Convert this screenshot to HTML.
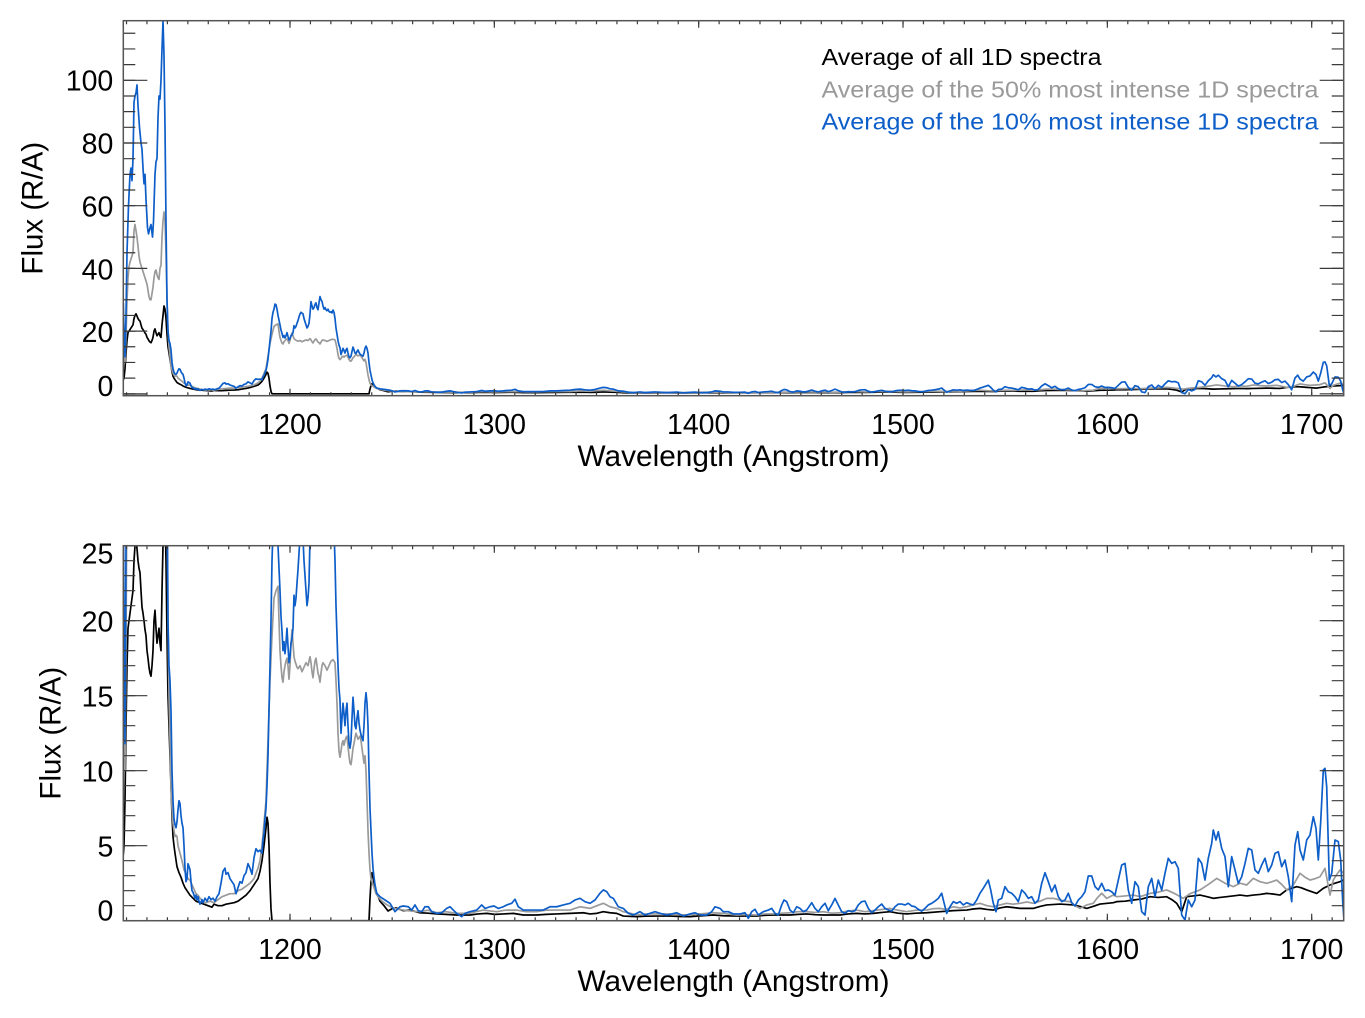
<!DOCTYPE html>
<html>
<head>
<meta charset="utf-8">
<style>
html,body{margin:0;padding:0;background:#fff;}
svg{display:block;}
text{font-family:"Liberation Sans",Arial,Helvetica,sans-serif;}
</style>
</head>
<body>
<svg width="1365" height="1018" viewBox="0 0 1365 1018" xmlns="http://www.w3.org/2000/svg">
<rect x="0" y="0" width="1365" height="1018" fill="#fff"/>
<defs>
<clipPath id="ct" clipPathUnits="userSpaceOnUse"><rect x="123.3" y="20.7" width="1220.4" height="375"/></clipPath>
<clipPath id="cb" clipPathUnits="userSpaceOnUse"><rect x="123.3" y="545.7" width="1220.4" height="375"/></clipPath>
</defs>

<!-- ================= TOP PANEL ================= -->
<g clip-path="url(#ct)" fill="none" stroke-linejoin="round">
<polyline transform="matrix(1 0 0 -3.135 0 393.8)" vector-effect="non-scaling-stroke" stroke="#000" stroke-width="1.7" points="123.3,4.4 124,5 125,8 126,13 127,17 128,19.5 129,20 130,20.5 131,21 132,21.5 133,22 134,24 135,25 136,25.5 137,24.8 138,24 139,23.5 140,23.2 141,22 142,20.9 143,20.5 144,20 145,19.4 146,19 147,18 148,17.5 149,16.9 150,16.5 151,16.3 152,17 153,18 154,20 155,20.7 156,19.5 157,18.5 158,19 159,19.5 160,18.5 161,18 162,22 163,25 164,28 165,27 166,24 167,19 168,15 169,13 170,11 171,9 172,7 173,5.6 174,5 175,4.5 177,3.6 179,3.2 181,2.9 183,2.5 185,2.2 187,2 190,1.7 193,1.5 196,1.3 200,1.2 204,1.1 208,1 212,0.9 214,1.1 218,1 222,1 226,1.1 230,1.15 234,1.2 238,1.3 242,1.5 246,1.7 250,2 254,2.4 258,2.8 260,3.3 262,4 264,5 266,6.2 267,6.9 268,6.5 269,5 270,2.5 271,0.8 272,0 369,0 370,1.5 371,2.6 372,3.2 373,3 374,2.5 375,2.1 377,1.8 380,1.3 384,1 388,0.65 392,0.8 396,0.85 403.3,0.67 410,0.71 420,0.53 428,0.5 436.7,0.45 446,0.42 456.7,0.38 470,0.38 478,0.45 486.7,0.49 495,0.42 503.3,0.45 513.3,0.49 523.3,0.38 536.7,0.38 546,0.42 556.7,0.45 570,0.49 583.3,0.53 590,0.45 596.7,0.49 603.3,0.6 610,0.53 616.7,0.49 623.3,0.31 636.7,0.27 646,0.3 656.7,0.31 670,0.31 680,0.28 690,0.27 700,0.32 713.3,0.38 723.3,0.33 736.7,0.31 756.7,0.31 765,0.36 773.3,0.38 790,0.38 798,0.42 806.7,0.45 815,0.4 823.3,0.38 840,0.38 848,0.45 856.7,0.49 865,0.45 873.3,0.49 882,0.55 890,0.6 898,0.5 906.7,0.45 916,0.5 926.7,0.53 940,0.6 953.3,0.67 966.7,0.71 973,0.78 980,0.82 987,0.75 993.3,0.71 1000,0.85 1006.7,0.93 1013,0.88 1020,0.82 1033.3,0.82 1040,0.95 1046.7,1.05 1060,1.11 1073.3,1.05 1080,0.95 1086.7,0.82 1093,0.95 1100,1.11 1113.3,1.2 1116.7,1.27 1125,1.3 1133.3,1.38 1142,1.45 1150,1.6 1158,1.55 1166.7,1.6 1172,1.4 1176.7,1.16 1181.7,0.6 1186.7,1.6 1193,1.65 1200,1.71 1207,1.6 1213.3,1.49 1220,1.55 1226.7,1.6 1233,1.65 1240,1.71 1247,1.65 1253.3,1.71 1260,1.75 1266.7,1.82 1273,1.78 1280,1.71 1286.7,2.05 1291,2.15 1296.7,2.27 1301,2.2 1306.7,2.05 1311,1.95 1316.7,1.82 1323.3,2.16 1330,2.38 1335,2.5 1340,2.6 1343.7,2.71"/>
<polyline transform="matrix(1 0 0 -3.135 0 393.8)" vector-effect="non-scaling-stroke" stroke="#9a9a9a" stroke-width="1.7" points="123.3,20 124,14 125,10 126,18 127,30 128,37 129,40.5 130,42 131,43 132,44 133,45 134,52 135,54 136,52 137,50 138,47 139,44 140,42 141,41 142,40 143,39 144,38 145,37 146,36 147,35 148,33 149,31 150,30 151,30 152,32 153,34 154,37 155,39 156,39.5 157,38 158,37 159,36.5 160,40 161,41 162,50 163,55 164,58 165,55 166,45 167,30 168,20 169,15 170,12 171,9 172,7.5 173,6.5 174,6 175,5.6 176,5.7 177,5.6 178,5 180,4.5 182,4 184,3.4 186,3.1 188,2.8 190,2.7 192,2.4 194,2.1 196,1.8 198,1.7 200,1.5 203,1.3 206,1.2 210,1.3 214,1.2 218,1.4 222,1.6 226,1.7 230,1.8 234,1.8 238,2 242,2.1 246,2.3 250,2.5 254,2.8 258,3.5 260,4 262,5 264,6.5 266,8 268,12 270,16 272,19 274,21.5 276,22 278,22.3 279,20 280,18 281,17 282,16.2 283,15.9 284,16.6 285,17 286,17.3 287,17.5 288,17 289,16.1 290,17 291,18.5 292,19.4 293,18.5 294,17.6 295,17.3 296,17.1 297,16.9 298,16.8 300,17 302,16.6 304,16.9 306,17.2 308,17 310,17.6 311,17.2 312,16.6 313,16.2 314,16.8 315,17.3 316,17.5 317,17 318,16.5 319,16.3 320,15.9 321,16.5 322,17 323,17.2 325,17 327,16.7 329,17 331,17.3 333,17.4 335,17.2 336,16 337,14.5 338,12.5 339,11.3 340,10.9 341,11.3 342,11.8 343,12 344,11.7 345,12 346,12.2 347,12.3 348,11.6 349,11 350,10.5 351,10.4 352,10.9 353,11.5 354,11.8 355,12.2 356,12.5 357,12.3 358,12.1 360,12.3 361,12 362,11.5 363,11 364,10.5 365,11 366,10 367,8 368,6 369,4.5 370,3.4 371,2.8 372,2.6 374,2.2 376,1.8 378,1.6 382,1.3 386,1.1 390,0.95 395,0.8 400,0.75 403.3,0.71 410,0.65 420,0.6 428,0.7 436.7,0.53 446,0.6 456.7,0.49 470,0.49 476,0.6 483.3,0.71 490,0.65 496.7,0.6 505,0.7 516.7,0.71 526,0.6 536.7,0.6 546,0.7 556.7,0.71 570,0.71 580,0.93 590,0.82 597,1 603.3,1.16 610,0.93 616.7,0.82 623.3,0.6 630,0.5 636.7,0.38 646,0.45 656.7,0.45 670,0.45 680,0.4 690,0.38 700,0.45 713.3,0.53 723.3,0.49 736.7,0.38 745,0.4 756.7,0.38 765,0.45 773.3,0.45 782,0.5 790,0.53 798,0.6 806.7,0.6 815,0.55 823.3,0.6 832,0.5 840,0.53 848,0.65 856.7,0.71 865,0.6 873.3,0.67 882,0.75 890,0.82 898,0.7 906.7,0.6 916,0.7 926.7,0.71 933,0.8 940,0.82 946,0.75 953.3,0.93 960,0.85 966.7,0.93 973,1.05 980,1.16 987,1 993.3,0.93 1000,1.05 1006.7,1.16 1013,1.1 1020,1.16 1027,1.25 1033.3,1.16 1040,1.3 1046.7,1.49 1053.3,1.49 1060,1.38 1065,1.3 1070,1.27 1075,1 1080,0.82 1086.7,1.05 1093.3,1.16 1097,1.5 1101.7,1.83 1106.7,1.49 1113.3,1.71 1116.7,1.6 1125,1.65 1133.3,1.71 1140,1.6 1150,1.82 1158,1.9 1166.7,2.05 1175,1.8 1183.3,1.49 1190,1.8 1200,2.05 1208,2.4 1216.7,2.82 1225,2.5 1233.3,2.27 1240,2.5 1246.7,2.38 1253.3,2.82 1260,2.6 1266.7,2.49 1272,2.6 1276.7,2.71 1282,2.4 1286.7,2.05 1293.3,2.38 1300,3.16 1305,2.9 1310,2.71 1315,2.8 1320,2.93 1325,3.49 1330,1.71 1333.3,2.71 1337,3.1 1340,3.38 1343.7,3.16"/>
<polyline transform="matrix(1 0 0 -3.135 0 393.8)" vector-effect="non-scaling-stroke" stroke="#0d5ec9" stroke-width="1.7" points="123.3,29 124,20 125,11.8 126,25 127,45 128.5,60 130,70 131,72 132,68 133,75 134,93 135,95 136,96 137,98.5 138,92 139.5,85 141,80 142,78 143,72 144,67 145,70 146,62 147.5,53 148.5,51 150,53 151,54 152.5,50 153.5,55 155,70 156,74 157,75 158,88 159,95 160,94 161,100 162,110 163,119 164,108 165,85 166,55 167,30 168,20 169,17 170,16 171,14 172,10 173,8 174,6.8 175,6.4 176,6.2 177,6.6 178,7.4 179,8 180,7.8 181,7 182,6.5 183,6.2 184,5 185,3.5 186,2.6 187,2.8 188,3.8 189,3.6 190,3.4 191,2.6 192,2 193,1.9 194,1.7 195,1.5 196,1.7 197,1.4 198,1.6 199,1.3 200,1.1 202,1.4 203,1.2 205,1.5 207,1.3 209,1.6 211,1.4 213,1.5 215,1.3 217,1.6 219,1.8 221,2.5 223,3.3 225,3.5 226,3.1 228,3.2 230,2.8 232,2.6 234,2.4 236,1.8 238,2.2 240,2.6 242,2.5 244,3 246,3.2 248,3.8 250,3.5 252,3.1 254,4.2 256,4.8 258,4.6 260,4.7 262,4.5 263,5.4 264,5.8 265,6.8 266,7.5 267,9 268,11 269,14 270,17 271,20 272,24 273,26 274,27 275,28.6 276,28.4 277,27 278,25 279,23.5 280,22 281,20.3 282,19.3 283,18 284,18.6 285,17.8 286,18.5 287,19.5 288,18.3 289,17.2 290,17.6 291,18.5 292,18.8 293,19.5 294,21.7 295,21 296,21.5 297,22.5 298,23.4 299,24.5 300,25.5 301,26 302,25.7 303,25.5 304,24 305,23 306,22 307,21 308,21.5 309,22.5 310,25.5 311,29.4 312,28 313,27 314,27.5 315,28.5 316,29 317,27.5 318,26.8 319,29 320,31 321,30 322,29.5 323,28 324,27 325,27.5 326,26.8 327,26.5 328,27 329,26.3 330,26 331,26.2 332,25.8 333,26.7 334,26 335,24 336,21 337,19 338,17 339,15.5 340,14.7 341,12.5 342,13.5 343,14.5 344,13.8 345,13 346,14 347,14.5 348,13 349,11.8 350,11.5 351,12 352,13.5 353,14.9 354,14 355,13 356,12.8 357,13.5 358,14 359,13.2 360,12.7 361,12.4 362,12.2 363,12 364,13 365,14.5 366,15.2 367,14.5 368,13 369,10 370,7.5 371,6 372,4.5 373,3.5 374,2.9 375,2.4 376.7,1.83 380,1.6 385,1.38 390,1.16 395,0.6 400,0.93 403.3,0.98 408.3,0.93 411.7,0.71 415,1.05 418.3,0.67 421.7,0.6 425,0.93 428.3,0.93 431.7,0.6 436.7,0.49 441.7,0.53 446.7,0.82 450,0.93 453.3,0.71 456.7,0.49 461.7,0.27 465,0.49 470,0.6 476.7,0.71 481.7,1.05 485,0.82 490,0.93 494,0.98 498.3,0.82 503.3,0.93 506.7,1.05 511.7,1.16 515,1.43 518.3,0.93 523.3,0.71 530,0.71 536.7,0.71 543.3,0.71 550,0.93 556.7,0.93 563.3,1.05 570,1.16 575,1.38 580,1.49 585,1.27 590,1.16 595,1.38 600,1.83 603.3,2.05 606.7,1.94 610,1.6 613.3,1.49 618.3,0.93 623.3,0.82 628.3,0.49 633.3,0.38 640,0.6 645,0.38 650,0.49 655,0.6 660,0.49 666.7,0.38 671.7,0.45 676.7,0.53 683.3,0.31 690,0.45 695,0.53 700,0.38 706.7,0.38 711.7,0.6 715,0.93 720,0.82 723.3,0.6 728.3,0.6 733.3,0.45 740,0.45 745,0.53 748.3,0.16 751.7,0.6 755,0.76 758.3,0.38 763.3,0.6 768.3,0.71 771.7,0.82 775,0.49 778.3,0.38 781.7,1.05 784,1.38 786.7,1.27 790,0.71 793.3,0.53 796.7,0.93 800,0.82 803.3,0.6 806.7,0.71 811.7,1.2 815,0.82 818.3,0.6 821.7,0.93 825,1.16 828.3,0.67 831.7,1.05 835,1.49 838.3,1.05 841.7,0.6 845,0.49 848.3,0.67 851.7,0.6 855,0.67 858.3,1.05 861.7,1.27 865,1.31 868.3,0.82 871.7,0.53 875,0.71 878.3,0.93 881.7,1.11 885,0.82 888.3,0.71 891.7,0.64 895,0.93 898.3,1.11 901.7,1.11 905,1.05 908.3,1.16 911.7,0.98 915,0.93 918.3,0.76 921.7,0.64 925,0.82 928.3,1.05 931.7,1.16 935,1.31 938.3,1.49 941.7,1.83 944,1.2 946.7,0.49 950,0.93 953.3,1.27 956.7,1.16 960,1.27 963.3,1.05 966.7,1.2 970,1.11 973.3,1.05 976.7,1.38 980,1.83 983.3,2.16 988.3,2.71 990.7,2.05 993.3,1.16 996,0.6 998.3,1.38 1001.7,1.49 1005,2.27 1008.3,1.93 1011.7,1.83 1015,1.6 1018.3,1.27 1021.7,2.05 1025,1.83 1028.3,1.49 1031.7,1.6 1035,1.16 1038.3,1.38 1041.7,2.49 1045,3.2 1048.3,2.6 1051.7,1.93 1055,2.38 1058.3,1.6 1061.7,1.27 1065,1.38 1068.3,1.83 1071.7,1.2 1075,0.98 1078.3,1.38 1081.7,1.6 1085,1.93 1088.3,2.98 1091.7,2.98 1095,2.27 1098.3,2.05 1101.7,2.49 1105,2 1108.3,2.05 1111.7,1.93 1115,1.71 1118.3,2.71 1121.7,3.71 1125,3.82 1128.3,2.04 1131.7,1.16 1135,2.6 1138.3,2.27 1141.7,0.6 1145,0.38 1148.3,2.27 1151.7,2.82 1155,1.6 1158.3,2.71 1161.7,2.04 1165,3.16 1168.3,4.16 1171.7,3.82 1175,3.93 1178.3,3.49 1181.7,0.38 1185,0.04 1188.3,1.38 1191.7,0.93 1195,1.38 1198.3,4.16 1201.7,3.82 1205,2.71 1208.3,4.16 1211.7,5.16 1213.3,6.05 1216,5.38 1218.3,5.93 1221.7,4.82 1225,4.27 1228.3,2.27 1231.7,4.27 1235,3.38 1238.3,2.49 1241.7,2.93 1245,3.82 1248.3,4.82 1251.7,4.71 1255,3.38 1258.3,3.16 1261.7,3.71 1265,4.16 1268.3,3.27 1271.7,3.71 1275,4.49 1278.3,4.6 1281.7,3.6 1285,4.05 1288.3,2.93 1291.7,1.27 1295,5.05 1297.7,5.93 1300,4.71 1303.3,4.05 1306.7,5.38 1310,5.71 1313.3,6.93 1316,6.16 1318.3,4.05 1320.7,6.6 1323.3,10.05 1325,10.16 1326.7,8.93 1329.3,2.71 1331.7,3.16 1335,5.38 1338.3,5.27 1340.7,4.05 1342.7,1.27 1344,0.04"/>
</g>
<rect x="123.3" y="393.4" width="23.7" height="2.3" fill="#aaa"/>

<!-- top axes -->
<g stroke="#3a3a3a" fill="none">
<line x1="129.3" y1="394.4" x2="129.3" y2="32" stroke-width="12" stroke-dasharray="1.2 14.475"/>
<line x1="135.3" y1="394.4" x2="135.3" y2="79" stroke-width="24" stroke-dasharray="1.2 61.5"/>
<line x1="1337.7" y1="394.4" x2="1337.7" y2="32" stroke-width="12" stroke-dasharray="1.2 14.475"/>
<line x1="1331.7" y1="394.4" x2="1331.7" y2="79" stroke-width="24" stroke-dasharray="1.2 61.5"/>
<line x1="125.93" y1="393.95" x2="1334" y2="393.95" stroke-width="3.5" stroke-dasharray="1.2 19.234"/>
<line x1="289.4" y1="392.2" x2="1313" y2="392.2" stroke-width="7" stroke-dasharray="1.2 203.14"/>
<line x1="125.93" y1="22.45" x2="1334" y2="22.45" stroke-width="3.5" stroke-dasharray="1.2 19.234"/>
<line x1="289.4" y1="24.2" x2="1313" y2="24.2" stroke-width="7" stroke-dasharray="1.2 203.14"/>
</g>
<rect x="123.3" y="20.7" width="1220.4" height="375" fill="none" stroke="#555" stroke-width="1.5"/>

<g font-size="28.5" fill="#000" text-anchor="end">
<text x="113.3" y="90.5">100</text>
<text x="113.3" y="153.3">80</text>
<text x="113.3" y="216.3">60</text>
<text x="113.3" y="279.3">40</text>
<text x="113.3" y="341.8">20</text>
<text x="113.3" y="396">0</text>
</g>
<g font-size="28.5" fill="#000" text-anchor="middle">
<text x="290" y="433.8">1200</text>
<text x="494.3" y="433.8">1300</text>
<text x="698.7" y="433.8">1400</text>
<text x="903" y="433.8">1500</text>
<text x="1107.4" y="433.8">1600</text>
<text x="1311.7" y="433.8">1700</text>
</g>
<text x="577.5" y="466" font-size="29.5" textLength="312" lengthAdjust="spacingAndGlyphs">Wavelength (Angstrom)</text>
<text transform="translate(42.7,208.2) rotate(-90)" font-size="29.5" text-anchor="middle">Flux (R/A)</text>

<text x="821.5" y="65" font-size="23" fill="#000" textLength="280" lengthAdjust="spacingAndGlyphs">Average of all 1D spectra</text>
<text x="821.5" y="97.5" font-size="23" fill="#9a9a9a" textLength="497" lengthAdjust="spacingAndGlyphs">Average of the 50% most intense 1D spectra</text>
<text x="821.5" y="129.5" font-size="23" fill="#0d5ec9" textLength="497" lengthAdjust="spacingAndGlyphs">Average of the 10% most intense 1D spectra</text>

<!-- ================= BOTTOM PANEL ================= -->
<g clip-path="url(#cb)" fill="none" stroke-linejoin="round">
<polyline transform="matrix(1 0 0 -15 0 920.7)" vector-effect="non-scaling-stroke" stroke="#000" stroke-width="1.7" points="123.3,4.4 124,5 125,8 126,13 127,17 128,19.5 129,20 130,20.5 131,21 132,21.5 133,22 134,24 135,25 136,25.5 137,24.8 138,24 139,23.5 140,23.2 141,22 142,20.9 143,20.5 144,20 145,19.4 146,19 147,18 148,17.5 149,16.9 150,16.5 151,16.3 152,17 153,18 154,20 155,20.7 156,19.5 157,18.5 158,19 159,19.5 160,18.5 161,18 162,22 163,25 164,28 165,27 166,24 167,19 168,15 169,13 170,11 171,9 172,7 173,5.6 174,5 175,4.5 177,3.6 179,3.2 181,2.9 183,2.5 185,2.2 187,2 190,1.7 193,1.5 196,1.3 200,1.2 204,1.1 208,1 212,0.9 214,1.1 218,1 222,1 226,1.1 230,1.15 234,1.2 238,1.3 242,1.5 246,1.7 250,2 254,2.4 258,2.8 260,3.3 262,4 264,5 266,6.2 267,6.9 268,6.5 269,5 270,2.5 271,0.8 272,0 369,0 370,1.5 371,2.6 372,3.2 373,3 374,2.5 375,2.1 377,1.8 380,1.3 384,1 388,0.65 392,0.8 396,0.85 403.3,0.67 410,0.71 420,0.53 428,0.5 436.7,0.45 446,0.42 456.7,0.38 470,0.38 478,0.45 486.7,0.49 495,0.42 503.3,0.45 513.3,0.49 523.3,0.38 536.7,0.38 546,0.42 556.7,0.45 570,0.49 583.3,0.53 590,0.45 596.7,0.49 603.3,0.6 610,0.53 616.7,0.49 623.3,0.31 636.7,0.27 646,0.3 656.7,0.31 670,0.31 680,0.28 690,0.27 700,0.32 713.3,0.38 723.3,0.33 736.7,0.31 756.7,0.31 765,0.36 773.3,0.38 790,0.38 798,0.42 806.7,0.45 815,0.4 823.3,0.38 840,0.38 848,0.45 856.7,0.49 865,0.45 873.3,0.49 882,0.55 890,0.6 898,0.5 906.7,0.45 916,0.5 926.7,0.53 940,0.6 953.3,0.67 966.7,0.71 973,0.78 980,0.82 987,0.75 993.3,0.71 1000,0.85 1006.7,0.93 1013,0.88 1020,0.82 1033.3,0.82 1040,0.95 1046.7,1.05 1060,1.11 1073.3,1.05 1080,0.95 1086.7,0.82 1093,0.95 1100,1.11 1113.3,1.2 1116.7,1.27 1125,1.3 1133.3,1.38 1142,1.45 1150,1.6 1158,1.55 1166.7,1.6 1172,1.4 1176.7,1.16 1181.7,0.6 1186.7,1.6 1193,1.65 1200,1.71 1207,1.6 1213.3,1.49 1220,1.55 1226.7,1.6 1233,1.65 1240,1.71 1247,1.65 1253.3,1.71 1260,1.75 1266.7,1.82 1273,1.78 1280,1.71 1286.7,2.05 1291,2.15 1296.7,2.27 1301,2.2 1306.7,2.05 1311,1.95 1316.7,1.82 1323.3,2.16 1330,2.38 1335,2.5 1340,2.6 1343.7,2.71"/>
<polyline transform="matrix(1 0 0 -15 0 920.7)" vector-effect="non-scaling-stroke" stroke="#9a9a9a" stroke-width="1.7" points="123.3,20 124,14 125,10 126,18 127,30 128,37 129,40.5 130,42 131,43 132,44 133,45 134,52 135,54 136,52 137,50 138,47 139,44 140,42 141,41 142,40 143,39 144,38 145,37 146,36 147,35 148,33 149,31 150,30 151,30 152,32 153,34 154,37 155,39 156,39.5 157,38 158,37 159,36.5 160,40 161,41 162,50 163,55 164,58 165,55 166,45 167,30 168,20 169,15 170,12 171,9 172,7.5 173,6.5 174,6 175,5.6 176,5.7 177,5.6 178,5 180,4.5 182,4 184,3.4 186,3.1 188,2.8 190,2.7 192,2.4 194,2.1 196,1.8 198,1.7 200,1.5 203,1.3 206,1.2 210,1.3 214,1.2 218,1.4 222,1.6 226,1.7 230,1.8 234,1.8 238,2 242,2.1 246,2.3 250,2.5 254,2.8 258,3.5 260,4 262,5 264,6.5 266,8 268,12 270,16 272,19 274,21.5 276,22 278,22.3 279,20 280,18 281,17 282,16.2 283,15.9 284,16.6 285,17 286,17.3 287,17.5 288,17 289,16.1 290,17 291,18.5 292,19.4 293,18.5 294,17.6 295,17.3 296,17.1 297,16.9 298,16.8 300,17 302,16.6 304,16.9 306,17.2 308,17 310,17.6 311,17.2 312,16.6 313,16.2 314,16.8 315,17.3 316,17.5 317,17 318,16.5 319,16.3 320,15.9 321,16.5 322,17 323,17.2 325,17 327,16.7 329,17 331,17.3 333,17.4 335,17.2 336,16 337,14.5 338,12.5 339,11.3 340,10.9 341,11.3 342,11.8 343,12 344,11.7 345,12 346,12.2 347,12.3 348,11.6 349,11 350,10.5 351,10.4 352,10.9 353,11.5 354,11.8 355,12.2 356,12.5 357,12.3 358,12.1 360,12.3 361,12 362,11.5 363,11 364,10.5 365,11 366,10 367,8 368,6 369,4.5 370,3.4 371,2.8 372,2.6 374,2.2 376,1.8 378,1.6 382,1.3 386,1.1 390,0.95 395,0.8 400,0.75 403.3,0.71 410,0.65 420,0.6 428,0.7 436.7,0.53 446,0.6 456.7,0.49 470,0.49 476,0.6 483.3,0.71 490,0.65 496.7,0.6 505,0.7 516.7,0.71 526,0.6 536.7,0.6 546,0.7 556.7,0.71 570,0.71 580,0.93 590,0.82 597,1 603.3,1.16 610,0.93 616.7,0.82 623.3,0.6 630,0.5 636.7,0.38 646,0.45 656.7,0.45 670,0.45 680,0.4 690,0.38 700,0.45 713.3,0.53 723.3,0.49 736.7,0.38 745,0.4 756.7,0.38 765,0.45 773.3,0.45 782,0.5 790,0.53 798,0.6 806.7,0.6 815,0.55 823.3,0.6 832,0.5 840,0.53 848,0.65 856.7,0.71 865,0.6 873.3,0.67 882,0.75 890,0.82 898,0.7 906.7,0.6 916,0.7 926.7,0.71 933,0.8 940,0.82 946,0.75 953.3,0.93 960,0.85 966.7,0.93 973,1.05 980,1.16 987,1 993.3,0.93 1000,1.05 1006.7,1.16 1013,1.1 1020,1.16 1027,1.25 1033.3,1.16 1040,1.3 1046.7,1.49 1053.3,1.49 1060,1.38 1065,1.3 1070,1.27 1075,1 1080,0.82 1086.7,1.05 1093.3,1.16 1097,1.5 1101.7,1.83 1106.7,1.49 1113.3,1.71 1116.7,1.6 1125,1.65 1133.3,1.71 1140,1.6 1150,1.82 1158,1.9 1166.7,2.05 1175,1.8 1183.3,1.49 1190,1.8 1200,2.05 1208,2.4 1216.7,2.82 1225,2.5 1233.3,2.27 1240,2.5 1246.7,2.38 1253.3,2.82 1260,2.6 1266.7,2.49 1272,2.6 1276.7,2.71 1282,2.4 1286.7,2.05 1293.3,2.38 1300,3.16 1305,2.9 1310,2.71 1315,2.8 1320,2.93 1325,3.49 1330,1.71 1333.3,2.71 1337,3.1 1340,3.38 1343.7,3.16"/>
<polyline transform="matrix(1 0 0 -15 0 920.7)" vector-effect="non-scaling-stroke" stroke="#0d5ec9" stroke-width="1.7" points="123.3,29 124,20 125,11.8 126,25 127,45 128.5,60 130,70 131,72 132,68 133,75 134,93 135,95 136,96 137,98.5 138,92 139.5,85 141,80 142,78 143,72 144,67 145,70 146,62 147.5,53 148.5,51 150,53 151,54 152.5,50 153.5,55 155,70 156,74 157,75 158,88 159,95 160,94 161,100 162,110 163,119 164,108 165,85 166,55 167,30 168,20 169,17 170,16 171,14 172,10 173,8 174,6.8 175,6.4 176,6.2 177,6.6 178,7.4 179,8 180,7.8 181,7 182,6.5 183,6.2 184,5 185,3.5 186,2.6 187,2.8 188,3.8 189,3.6 190,3.4 191,2.6 192,2 193,1.9 194,1.7 195,1.5 196,1.7 197,1.4 198,1.6 199,1.3 200,1.1 202,1.4 203,1.2 205,1.5 207,1.3 209,1.6 211,1.4 213,1.5 215,1.3 217,1.6 219,1.8 221,2.5 223,3.3 225,3.5 226,3.1 228,3.2 230,2.8 232,2.6 234,2.4 236,1.8 238,2.2 240,2.6 242,2.5 244,3 246,3.2 248,3.8 250,3.5 252,3.1 254,4.2 256,4.8 258,4.6 260,4.7 262,4.5 263,5.4 264,5.8 265,6.8 266,7.5 267,9 268,11 269,14 270,17 271,20 272,24 273,26 274,27 275,28.6 276,28.4 277,27 278,25 279,23.5 280,22 281,20.3 282,19.3 283,18 284,18.6 285,17.8 286,18.5 287,19.5 288,18.3 289,17.2 290,17.6 291,18.5 292,18.8 293,19.5 294,21.7 295,21 296,21.5 297,22.5 298,23.4 299,24.5 300,25.5 301,26 302,25.7 303,25.5 304,24 305,23 306,22 307,21 308,21.5 309,22.5 310,25.5 311,29.4 312,28 313,27 314,27.5 315,28.5 316,29 317,27.5 318,26.8 319,29 320,31 321,30 322,29.5 323,28 324,27 325,27.5 326,26.8 327,26.5 328,27 329,26.3 330,26 331,26.2 332,25.8 333,26.7 334,26 335,24 336,21 337,19 338,17 339,15.5 340,14.7 341,12.5 342,13.5 343,14.5 344,13.8 345,13 346,14 347,14.5 348,13 349,11.8 350,11.5 351,12 352,13.5 353,14.9 354,14 355,13 356,12.8 357,13.5 358,14 359,13.2 360,12.7 361,12.4 362,12.2 363,12 364,13 365,14.5 366,15.2 367,14.5 368,13 369,10 370,7.5 371,6 372,4.5 373,3.5 374,2.9 375,2.4 376.7,1.83 380,1.6 385,1.38 390,1.16 395,0.6 400,0.93 403.3,0.98 408.3,0.93 411.7,0.71 415,1.05 418.3,0.67 421.7,0.6 425,0.93 428.3,0.93 431.7,0.6 436.7,0.49 441.7,0.53 446.7,0.82 450,0.93 453.3,0.71 456.7,0.49 461.7,0.27 465,0.49 470,0.6 476.7,0.71 481.7,1.05 485,0.82 490,0.93 494,0.98 498.3,0.82 503.3,0.93 506.7,1.05 511.7,1.16 515,1.43 518.3,0.93 523.3,0.71 530,0.71 536.7,0.71 543.3,0.71 550,0.93 556.7,0.93 563.3,1.05 570,1.16 575,1.38 580,1.49 585,1.27 590,1.16 595,1.38 600,1.83 603.3,2.05 606.7,1.94 610,1.6 613.3,1.49 618.3,0.93 623.3,0.82 628.3,0.49 633.3,0.38 640,0.6 645,0.38 650,0.49 655,0.6 660,0.49 666.7,0.38 671.7,0.45 676.7,0.53 683.3,0.31 690,0.45 695,0.53 700,0.38 706.7,0.38 711.7,0.6 715,0.93 720,0.82 723.3,0.6 728.3,0.6 733.3,0.45 740,0.45 745,0.53 748.3,0.16 751.7,0.6 755,0.76 758.3,0.38 763.3,0.6 768.3,0.71 771.7,0.82 775,0.49 778.3,0.38 781.7,1.05 784,1.38 786.7,1.27 790,0.71 793.3,0.53 796.7,0.93 800,0.82 803.3,0.6 806.7,0.71 811.7,1.2 815,0.82 818.3,0.6 821.7,0.93 825,1.16 828.3,0.67 831.7,1.05 835,1.49 838.3,1.05 841.7,0.6 845,0.49 848.3,0.67 851.7,0.6 855,0.67 858.3,1.05 861.7,1.27 865,1.31 868.3,0.82 871.7,0.53 875,0.71 878.3,0.93 881.7,1.11 885,0.82 888.3,0.71 891.7,0.64 895,0.93 898.3,1.11 901.7,1.11 905,1.05 908.3,1.16 911.7,0.98 915,0.93 918.3,0.76 921.7,0.64 925,0.82 928.3,1.05 931.7,1.16 935,1.31 938.3,1.49 941.7,1.83 944,1.2 946.7,0.49 950,0.93 953.3,1.27 956.7,1.16 960,1.27 963.3,1.05 966.7,1.2 970,1.11 973.3,1.05 976.7,1.38 980,1.83 983.3,2.16 988.3,2.71 990.7,2.05 993.3,1.16 996,0.6 998.3,1.38 1001.7,1.49 1005,2.27 1008.3,1.93 1011.7,1.83 1015,1.6 1018.3,1.27 1021.7,2.05 1025,1.83 1028.3,1.49 1031.7,1.6 1035,1.16 1038.3,1.38 1041.7,2.49 1045,3.2 1048.3,2.6 1051.7,1.93 1055,2.38 1058.3,1.6 1061.7,1.27 1065,1.38 1068.3,1.83 1071.7,1.2 1075,0.98 1078.3,1.38 1081.7,1.6 1085,1.93 1088.3,2.98 1091.7,2.98 1095,2.27 1098.3,2.05 1101.7,2.49 1105,2 1108.3,2.05 1111.7,1.93 1115,1.71 1118.3,2.71 1121.7,3.71 1125,3.82 1128.3,2.04 1131.7,1.16 1135,2.6 1138.3,2.27 1141.7,0.6 1145,0.38 1148.3,2.27 1151.7,2.82 1155,1.6 1158.3,2.71 1161.7,2.04 1165,3.16 1168.3,4.16 1171.7,3.82 1175,3.93 1178.3,3.49 1181.7,0.38 1185,0.04 1188.3,1.38 1191.7,0.93 1195,1.38 1198.3,4.16 1201.7,3.82 1205,2.71 1208.3,4.16 1211.7,5.16 1213.3,6.05 1216,5.38 1218.3,5.93 1221.7,4.82 1225,4.27 1228.3,2.27 1231.7,4.27 1235,3.38 1238.3,2.49 1241.7,2.93 1245,3.82 1248.3,4.82 1251.7,4.71 1255,3.38 1258.3,3.16 1261.7,3.71 1265,4.16 1268.3,3.27 1271.7,3.71 1275,4.49 1278.3,4.6 1281.7,3.6 1285,4.05 1288.3,2.93 1291.7,1.27 1295,5.05 1297.7,5.93 1300,4.71 1303.3,4.05 1306.7,5.38 1310,5.71 1313.3,6.93 1316,6.16 1318.3,4.05 1320.7,6.6 1323.3,10.05 1325,10.16 1326.7,8.93 1329.3,2.71 1331.7,3.16 1335,5.38 1338.3,5.27 1340.7,4.05 1342.7,1.27 1344,0.04"/>
</g>

<!-- bottom axes -->
<g stroke="#3a3a3a" fill="none">
<line x1="129.3" y1="921.3" x2="129.3" y2="545" stroke-width="12" stroke-dasharray="1.2 13.8"/>
<line x1="135.3" y1="921.3" x2="135.3" y2="545" stroke-width="24" stroke-dasharray="1.2 73.8"/>
<line x1="1337.7" y1="921.3" x2="1337.7" y2="545" stroke-width="12" stroke-dasharray="1.2 13.8"/>
<line x1="1331.7" y1="921.3" x2="1331.7" y2="545" stroke-width="24" stroke-dasharray="1.2 73.8"/>
<line x1="125.93" y1="918.95" x2="1334" y2="918.95" stroke-width="3.5" stroke-dasharray="1.2 19.234"/>
<line x1="289.4" y1="917.2" x2="1313" y2="917.2" stroke-width="7" stroke-dasharray="1.2 203.14"/>
<line x1="125.93" y1="547.45" x2="1334" y2="547.45" stroke-width="3.5" stroke-dasharray="1.2 19.234"/>
<line x1="289.4" y1="549.2" x2="1313" y2="549.2" stroke-width="7" stroke-dasharray="1.2 203.14"/>
</g>
<rect x="123.3" y="545.7" width="1220.4" height="375" fill="none" stroke="#555" stroke-width="1.5"/>

<g font-size="28.5" fill="#000" text-anchor="end">
<text x="113.3" y="563.3">25</text>
<text x="113.3" y="631.7">20</text>
<text x="113.3" y="706.7">15</text>
<text x="113.3" y="781.7">10</text>
<text x="113.3" y="856.7">5</text>
<text x="113.3" y="920.5">0</text>
</g>
<g font-size="28.5" fill="#000" text-anchor="middle">
<text x="290" y="958.8">1200</text>
<text x="494.3" y="958.8">1300</text>
<text x="698.7" y="958.8">1400</text>
<text x="903" y="958.8">1500</text>
<text x="1107.4" y="958.8">1600</text>
<text x="1311.7" y="958.8">1700</text>
</g>
<text x="577.5" y="991" font-size="29.5" textLength="312" lengthAdjust="spacingAndGlyphs">Wavelength (Angstrom)</text>
<text transform="translate(60.5,733.2) rotate(-90)" font-size="29.5" text-anchor="middle">Flux (R/A)</text>
</svg>
</body>
</html>
